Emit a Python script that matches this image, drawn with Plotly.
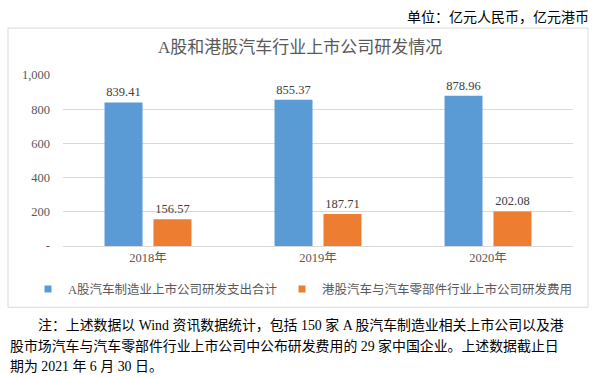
import plotly.graph_objects as go

categories = ["2018年", "2019年", "2020年"]
series_a_name = "A股汽车制造业上市公司研发支出合计"
series_b_name = "港股汽车与汽车零部件行业上市公司研发费用"
series_a = [839.41, 855.37, 878.96]
series_b = [156.57, 187.71, 202.08]
y_tickvals = [0, 200, 400, 600, 800, 1000]
y_ticktext = ["-", "200", "400", "600", "800", "1,000"]

title_text = "A股和港股汽车行业上市公司研发情况"
unit_text = "单位：亿元人民币，亿元港币"
note_lines = [
    "注：上述数据以 Wind 资讯数据统计，包括 150 家 A 股汽车制造业相关上市公司以及港",
    "股市场汽车与汽车零部件行业上市公司中公布研发费用的 29 家中国企业。上述数据截止日",
    "期为 2021 年 6 月 30 日。",
]

FONT = "Liberation Serif, Noto Sans CJK SC, serif"
BLUE, ORANGE = "#5B9BD5", "#ED7D31"
W, H = 600, 378
L, R = 63, 573
T0, B0 = 75.0, 246.5  # pixel y of 1000 and 0


def px(x):
    return (x - L) / (R - L)


def py(y):
    return (B0 - y) / (B0 - T0)


fig = go.Figure()
fig.add_trace(go.Bar(
    x=categories, y=series_a, name=series_a_name, showlegend=False,
    marker=dict(color=BLUE, line=dict(width=0)),
    text=[f"{v:.2f}" for v in series_a], textposition="outside",
    textfont=dict(family=FONT, size=12.5, color="#404040"), cliponaxis=False,
))
fig.add_trace(go.Bar(
    x=categories, y=series_b, name=series_b_name, showlegend=False,
    marker=dict(color=ORANGE, line=dict(width=0)),
    text=[f"{v:.2f}" for v in series_b], textposition="outside",
    textfont=dict(family=FONT, size=12.5, color="#404040"), cliponaxis=False,
))
# legend entries with small square swatches
for name, col in [(series_a_name, BLUE), (series_b_name, ORANGE)]:
    fig.add_trace(go.Scatter(
        x=[None], y=[None], mode="markers", name=name, showlegend=True,
        marker=dict(symbol="square", size=7, color=col),
    ))

shapes = [dict(type="rect", xref="paper", yref="paper",
               x0=px(8), x1=px(588), y0=py(308), y1=py(28),
               line=dict(color="#D9D9D9", width=1), fillcolor="rgba(0,0,0,0)",
               layer="below")]

annotations = [
    dict(text=title_text, xref="paper", yref="paper", x=px(300), y=py(47),
         xanchor="center", yanchor="middle", showarrow=False,
         font=dict(family=FONT, size=17, color="#595959")),
    dict(text=unit_text, xref="paper", yref="paper", x=px(591), y=py(17),
         xanchor="right", yanchor="middle", showarrow=False,
         font=dict(family=FONT, size=14, color="#000000")),
]
note_x = [36, 8, 8]
note_y = [326, 347, 367]
for t, xx, yy in zip(note_lines, note_x, note_y):
    annotations.append(dict(text=t, xref="paper", yref="paper", x=px(xx), y=py(yy),
                            xanchor="left", yanchor="middle", showarrow=False,
                            font=dict(family=FONT, size=13.9, color="#000000")))

fig.update_layout(
    width=W, height=H,
    margin=dict(l=L, r=W - R, t=T0, b=H - B0, pad=0, autoexpand=False),
    paper_bgcolor="white", plot_bgcolor="white",
    barmode="group", bargap=0.424, bargroupgap=0.224,
    font=dict(family=FONT, color="#595959"),
    showlegend=True,
    legend=dict(orientation="h", x=px(28), xanchor="left", y=py(290), yanchor="middle",
                font=dict(family=FONT, size=12.5, color="#595959"),
                itemwidth=30, tracegroupgap=0, bgcolor="rgba(0,0,0,0)",
                borderwidth=0),
    shapes=shapes, annotations=annotations,
)
fig.update_xaxes(showgrid=False, showline=True, linecolor="#D9D9D9", linewidth=1,
                 ticks="", tickfont=dict(family=FONT, size=12.5, color="#595959"),
                 fixedrange=True)
fig.update_yaxes(range=[0, 1000], tickvals=y_tickvals, ticktext=y_ticktext,
                 showgrid=True, gridcolor="#D9D9D9", gridwidth=1, zeroline=False,
                 showline=False, ticks="", ticklabelstandoff=12,
                 tickfont=dict(family=FONT, size=12.5, color="#595959"),
                 fixedrange=True)

fig.write_html("out.html", config={"displayModeBar": False},
               post_script="document.body.style.margin='0px';document.body.style.overflow='hidden';")
